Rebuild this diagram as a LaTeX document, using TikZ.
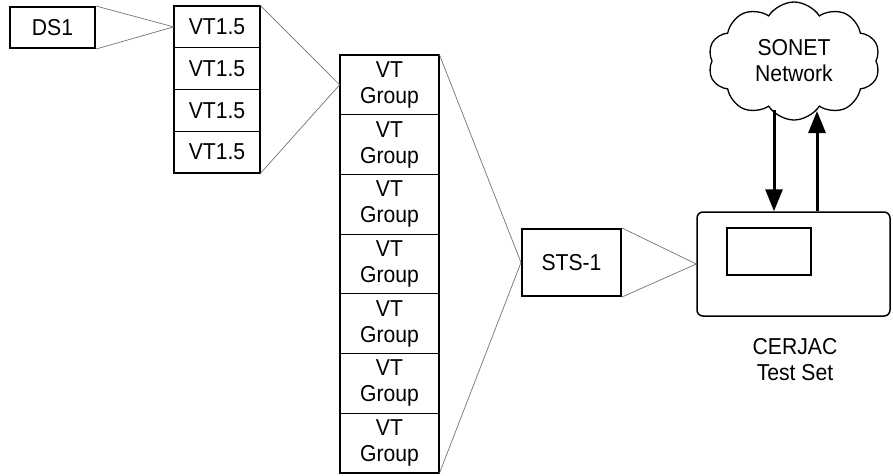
\documentclass[tikz,border=0pt]{standalone}
\usepackage{fontspec}
\setmainfont{Liberation Sans}[FakeStretch=0.92]
\usetikzlibrary{shapes.symbols,arrows.meta,calc}
\begin{document}
\begin{tikzpicture}[x=1pt,y=-1pt,
  txt/.style={font=\fontsize{23}{26}\selectfont, align=center, inner sep=0pt},
  box/.style={txt, draw, line width=2pt},
  cell/.style={txt, draw, line width=0.8pt},
  conn/.style={draw=black!55, line width=0.7pt},
  bigarrow/.style={line width=3pt, -{Triangle[width=17pt,length=22pt]}},
]
\useasboundingbox (0,0) rectangle (893,475);

% DS1
\node[box, minimum width=85pt, minimum height=41pt] (ds1) at (52.5,27.5) {DS1};

% VT1.5 stack
\foreach \i in {1,...,4}{
  \node[cell, minimum width=86pt, minimum height=41.75pt] (vt\i) at (217,{6+20.875+(\i-1)*41.75}) {VT1.5};
}
\draw[line width=2pt] (vt1.north west) rectangle (vt4.south east);

% VT Group stack
\foreach \i in {1,...,7}{
  \node[cell, minimum width=99pt, minimum height=59.7pt] (vg\i) at (389.5,{55+29.85+(\i-1)*59.7}) {VT\\Group};
}
\draw[line width=2pt] (vg1.north west) rectangle (vg7.south east);

% STS-1
\node[box, minimum width=99pt, minimum height=67pt] (sts) at (571.5,262.5) {STS-1};

% Test set
\node[draw, line width=1.5pt, rounded corners=6pt, minimum width=193pt, minimum height=104pt, inner sep=0pt] (test) at (793.5,264) {};
\node[draw, line width=1.3pt, minimum width=84pt, minimum height=47pt, inner sep=0pt] (screen) at (769,251.5) {};
\node[txt] (label) at (795,360) {CERJAC\\Test Set};

% Cloud
\node[cloud, draw, line width=1.3pt, cloud puffs=10, cloud puff arc=115, aspect=1.45,
      minimum width=172pt, minimum height=118pt, txt] (cloud) at (794,61) {SONET\\Network};

% Connectors
\path[conn] (ds1.north east) -- (vt1.west);
\path[conn] (ds1.south east) -- (vt1.west);
\path[conn] (vt1.north east) -- (vg1.west);
\path[conn] (vt4.south east) -- (vg1.west);
\path[conn] (vg1.north east) -- (sts.west);
\path[conn] (vg7.south east) -- (sts.west);
\path[conn] (sts.north east) -- (test.west);
\path[conn] (sts.south east) -- (test.west);

% Arrows between cloud and test set
\coordinate (dtop) at (774,110);
\coordinate (utop) at (817,111);
\draw[bigarrow] (dtop) -- (dtop |- test.north);
\draw[bigarrow] (utop |- test.north) -- (utop);
\end{tikzpicture}
\end{document}
